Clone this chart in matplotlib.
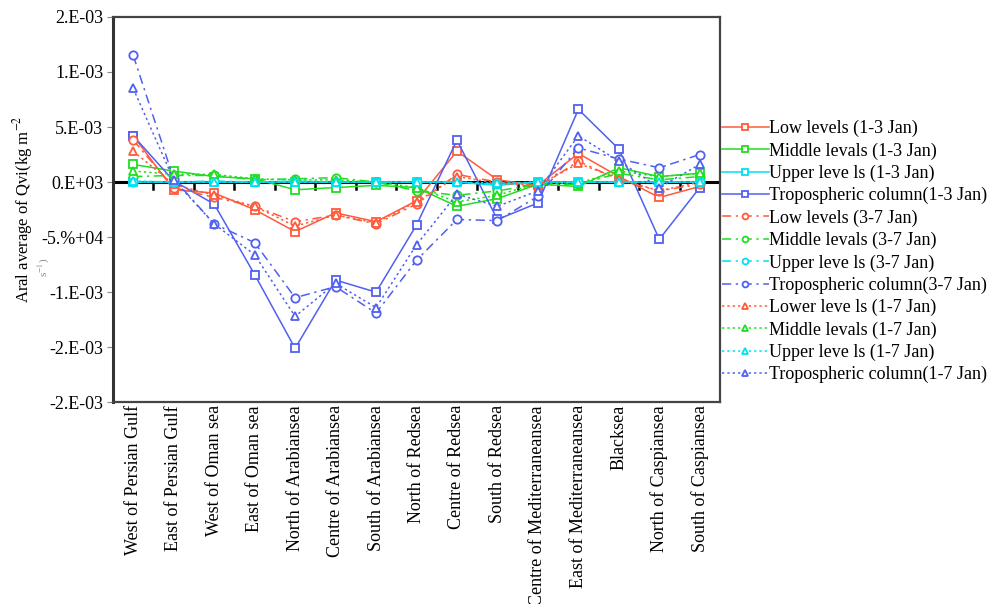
import matplotlib
matplotlib.use("Agg")
import matplotlib.pyplot as plt
import numpy as np

plt.rcParams["font.family"] = ["Liberation Serif", "DejaVu Serif"]
plt.rcParams["mathtext.fontset"] = "stix"

REGIONS = [
    "West of Persian Gulf",
    "East of Persian Gulf",
    "West of Oman sea",
    "East of Oman sea",
    "North of Arabiansea",
    "Centre of Arabiansea",
    "South of Arabiansea",
    "North of Redsea",
    "Centre of Redsea",
    "South of Redsea",
    "Centre of Mediterraneansea",
    "East of Mediterraneansea",
    "Blacksea",
    "North of Caspiansea",
    "South of Caspiansea",
]

# values in units of 1e-3 kg m-2 s-1
low_1_3 = [0.42, -0.07, -0.10, -0.25, -0.45, -0.28, -0.36, -0.17, 0.28, 0.02, -0.03, 0.26, 0.05, -0.14, -0.04]
mid_1_3 = [0.16, 0.10, 0.05, 0.03, -0.07, -0.05, -0.03, -0.05, -0.22, -0.15, -0.02, -0.04, 0.13, 0.05, 0.08]
up_1_3 = [0.00, 0.00, 0.00, 0.00, 0.00, 0.00, 0.00, 0.00, 0.00, -0.03, 0.00, 0.00, 0.00, 0.00, 0.00]
trop_1_3 = [0.42, 0.01, -0.20, -0.84, -1.51, -0.89, -1.00, -0.39, 0.38, -0.34, -0.19, 0.66, 0.30, -0.52, -0.05]

low_3_7 = [0.38, -0.05, -0.14, -0.22, -0.36, -0.30, -0.38, -0.20, 0.07, 0.00, -0.05, 0.19, 0.02, -0.08, -0.02]
mid_3_7 = [0.05, 0.06, 0.06, 0.02, 0.03, 0.04, 0.00, -0.08, -0.12, -0.08, -0.02, -0.02, 0.08, 0.02, 0.05]
up_3_7 = [0.00, 0.00, 0.01, 0.00, 0.01, 0.00, 0.00, 0.00, 0.00, -0.02, 0.00, 0.00, 0.00, 0.00, 0.00]
trop_3_7 = [1.15, 0.03, -0.38, -0.55, -1.05, -0.95, -1.19, -0.71, -0.34, -0.35, -0.13, 0.31, 0.21, 0.13, 0.25]

low_1_7 = [0.28, -0.02, -0.12, -0.22, -0.40, -0.30, -0.37, -0.18, 0.05, -0.01, -0.03, 0.17, 0.03, -0.08, 0.00]
mid_1_7 = [0.10, 0.07, 0.07, 0.03, 0.02, 0.02, 0.00, -0.05, -0.18, -0.12, -0.01, -0.01, 0.10, 0.05, 0.08]
up_1_7 = [0.01, 0.00, 0.00, 0.00, 0.00, 0.00, 0.00, 0.00, 0.00, -0.01, 0.00, 0.00, 0.00, 0.00, 0.00]
trop_1_7 = [0.85, 0.02, -0.38, -0.66, -1.22, -0.92, -1.14, -0.57, -0.11, -0.22, -0.08, 0.42, 0.19, -0.05, 0.16]

Y_TICKS = [1.5e-3, 1e-3, 5e-4, 0, -5e-4, -1e-3, -1.5e-3, -2e-3]
Y_TICK_LABELS = ["2.E-03", "1.E-03", "5.E-03", "0.E+03", "-5.%+04", "-1.E-03", "-2.E-03", "-2.E-03"]

RED = "#ff5a3c"
GREEN = "#22dd22"
CYAN = "#00e0f0"
BLUE = "#5060f0"

DASHDOT = (0, (6, 3, 1.5, 3))
DOTTED = (0, (1.5, 2))

SERIES = [
    (low_1_3, RED, "-", "s", "Low levels (1-3 Jan)"),
    (mid_1_3, GREEN, "-", "s", "Middle levals (1-3 Jan)"),
    (up_1_3, CYAN, "-", "s", "Upper leve ls (1-3 Jan)"),
    (trop_1_3, BLUE, "-", "s", "Tropospheric column(1-3 Jan)"),
    (low_3_7, RED, DASHDOT, "o", "Low levels (3-7 Jan)"),
    (mid_3_7, GREEN, DASHDOT, "o", "Middle levals (3-7 Jan)"),
    (up_3_7, CYAN, DASHDOT, "o", "Upper leve ls (3-7 Jan)"),
    (trop_3_7, BLUE, DASHDOT, "o", "Tropospheric column(3-7 Jan)"),
    (low_1_7, RED, DOTTED, "^", "Lower leve ls (1-7 Jan)"),
    (mid_1_7, GREEN, DOTTED, "^", "Middle levals (1-7 Jan)"),
    (up_1_7, CYAN, DOTTED, "^", "Upper leve ls (1-7 Jan)"),
    (trop_1_7, BLUE, DOTTED, "^", "Tropospheric column(1-7 Jan)"),
]

fig = plt.figure(figsize=(10, 6.04), dpi=100)
ax = fig.add_axes([0.113, 0.334, 0.607, 0.638])

x = np.arange(len(REGIONS))

# zero line with category tick marks
ax.axhline(0, color="black", lw=2.2, zorder=1)
for b in x[:-1] + 0.5:
    ax.plot([b, b], [0, -0.06e-3], color="black", lw=1.8, zorder=1)

for values, color, ls, marker, label in SERIES:
    ax.plot(
        x,
        np.array(values) * 1e-3,
        color=color,
        linestyle=ls,
        lw=1.1,
        marker=marker,
        markersize=6,
        markerfacecolor="white",
        markeredgecolor=color,
        markeredgewidth=1.3,
        label=label,
        zorder=3,
    )

ax.set_xlim(-0.5, len(REGIONS) - 0.5)
ax.set_ylim(-2e-3, 1.5e-3)
ax.set_yticks(Y_TICKS)
ax.set_yticklabels(Y_TICK_LABELS, fontsize=13)
ax.set_xticks(x)
ax.set_xticklabels(REGIONS, rotation=90, fontsize=13, va="top")
ax.tick_params(axis="x", length=0, pad=2)
ax.tick_params(axis="y", length=4, color="#888888", pad=3)

for side in ["top", "right", "bottom"]:
    ax.spines[side].set_color("#444444")
    ax.spines[side].set_linewidth(1.6)
ax.spines["left"].set_color("#333333")
ax.spines["left"].set_linewidth(2.2)

ax.set_ylabel("Aral average of Qvi(kg m$^{-2}$", fontsize=12, labelpad=4)
fig.text(0.044, 1 - 267 / 604, "s$^{-1}$)", rotation=90, fontsize=8,
         color="#888888", ha="center", va="center")

ax.legend(
    loc="upper left",
    bbox_to_anchor=(0.722, 1 - 120 / 604),
    bbox_transform=fig.transFigure,
    frameon=False,
    fontsize=13,
    handlelength=2.6,
    handletextpad=0.0,
    labelspacing=0.28,
    borderaxespad=0,
    borderpad=0,
    markerscale=0.7,
)

fig.savefig("out.png", dpi=100)
